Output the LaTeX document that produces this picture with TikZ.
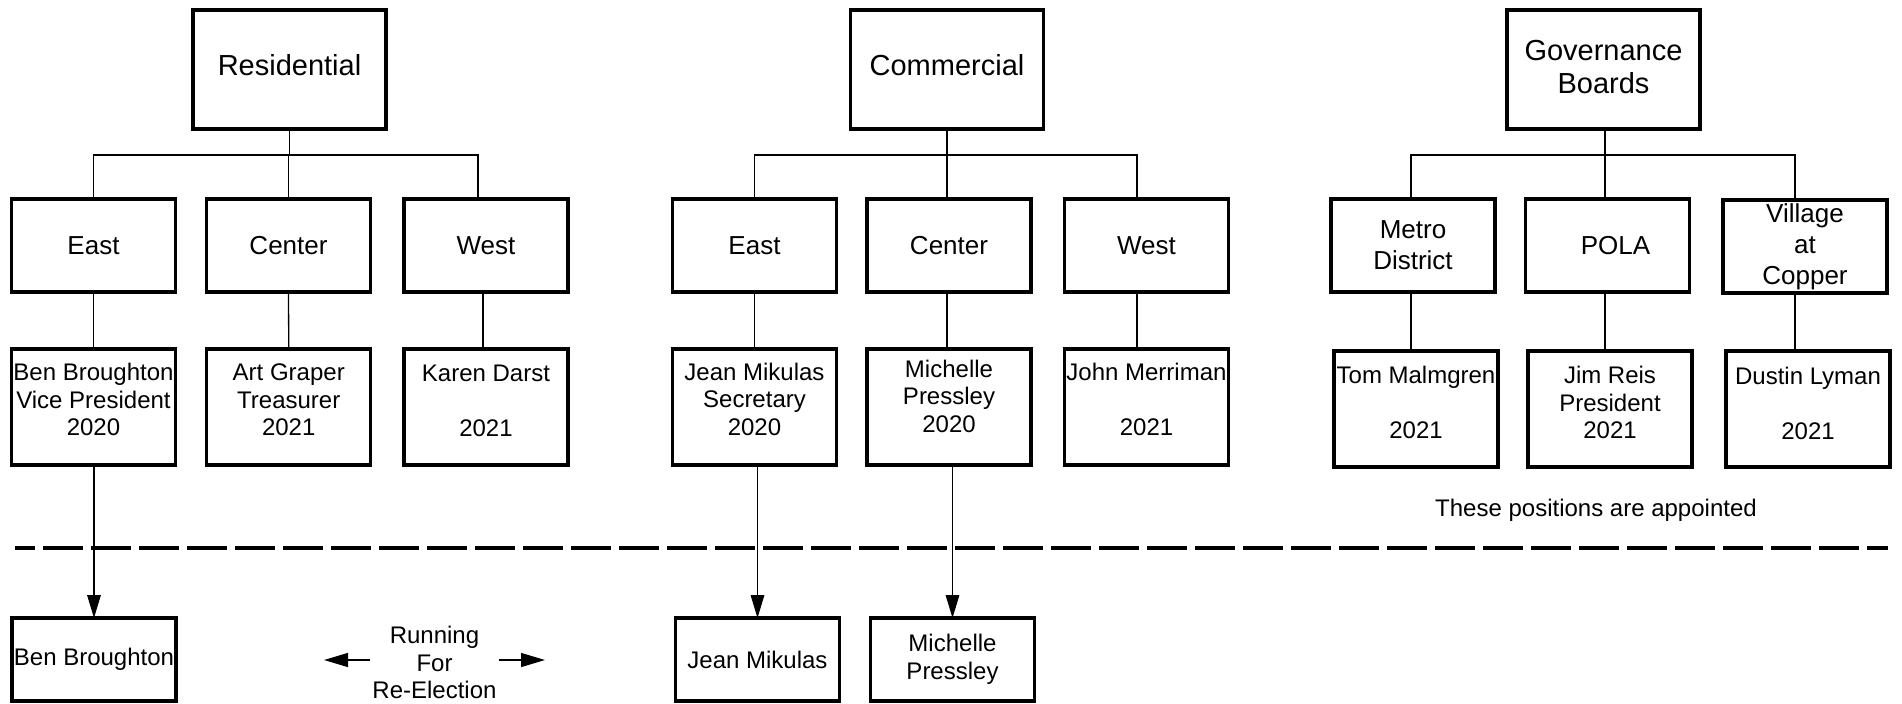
\documentclass[tikz,border=0pt]{standalone}
\usepackage{fontspec}
\setmainfont{Liberation Sans}
\usetikzlibrary{arrows.meta}
\newcommand{\lowpad}[1]{\rule[-#1]{0pt}{0pt}}
\begin{document}
\begin{tikzpicture}[x=0.5pt,y=-0.5pt,
  orgbox/.style={draw, line width=1.7pt, align=center, inner sep=0pt, outer sep=0pt},
  topnode/.style={orgbox, minimum width=96.5pt, minimum height=59.5pt, font=\fontsize{14.5pt}{16.5pt}\selectfont},
  midnode/.style={orgbox, minimum width=82pt, minimum height=46.5pt, font=\fontsize{13pt}{15.5pt}\selectfont},
  lownode/.style={orgbox, minimum width=82pt, minimum height=58pt, font=\fontsize{12pt}{13.75pt}\selectfont},
  runnode/.style={orgbox, minimum width=82pt, minimum height=41.5pt, font=\fontsize{12pt}{13.75pt}\selectfont},
  plaintext/.style={align=center, inner sep=0pt, outer sep=1pt, font=\fontsize{12pt}{13.75pt}\selectfont},
  conn/.style={line width=0.65pt},
  arrdown/.style={conn, -{Triangle[length=11.5pt,width=6.8pt]}},
  arrside/.style={conn, -{Triangle[length=12pt,width=7pt]}},
  sepline/.style={line width=1.6pt, dash pattern=on 20pt off 4pt, dash phase=10pt}
]
\useasboundingbox (0,0) rectangle (1902,703);

% ---------- Residential ----------
\node[topnode] (res) at (289.5,69.5) {Residential\lowpad{4.5pt}};
\node[midnode] (eR) at (93.5,245.5) {East};
\node[midnode] (cR) at (288.5,245.5) {Center};
\node[midnode] (wR) at (486,245.5) {West};
\node[lownode] (bR) at (93.5,407) {Ben Broughton\\Vice President\\2020\lowpad{7.5pt}};
\node[lownode] (aR) at (288.75,407) {Art Graper\\Treasurer\\2021\lowpad{7pt}};
\node[lownode] (kR) at (486,407) {Karen Darst\\\mbox{}\\2021\lowpad{6.5pt}};

\coordinate (busR) at (289.5,155);
\draw[conn] (res.south) -- (busR);
\draw[conn] (busR) -| (eR.north);
\draw[conn] (busR) -| (cR.north);
\draw[conn] (busR) -| ([xshift=-4pt]wR.north);
\draw[conn] (eR.south) -- (bR.north);
\draw[conn] (cR.south) -- (aR.north);
\draw[conn] ([xshift=-1.5pt]wR.south) -- ([xshift=-1.5pt]kR.north);

% ---------- Commercial ----------
\node[topnode] (com) at (947,69.5) {Commercial\lowpad{4.5pt}};
\node[midnode] (eC) at (754.5,245.5) {East};
\node[midnode] (cC) at (949,245.5) {Center};
\node[midnode] (wC) at (1146.5,245.5) {West};
\node[lownode] (jC) at (754.5,407) {Jean Mikulas\\Secretary\\2020\lowpad{8pt}};
\node[lownode] (mC) at (949,407) {Michelle\\Pressley\\2020\lowpad{11pt}};
\node[lownode] (hC) at (1146.5,407) {John Merriman\\\mbox{}\\2021\lowpad{7.3pt}};

\coordinate (busC) at (947,155);
\draw[conn] (com.south) -- (busC);
\draw[conn] (busC) -| (eC.north);
\draw[conn] (busC) -| ([xshift=-1pt]cC.north);
\draw[conn] (busC) -| ([xshift=-4.75pt]wC.north);
\draw[conn] (eC.south) -- (jC.north);
\draw[conn] ([xshift=-1pt]cC.south) -- ([xshift=-1pt]mC.north);
\draw[conn] ([xshift=-4.75pt]wC.south) -- ([xshift=-4.75pt]hC.north);

% ---------- Governance ----------
\node[topnode] (gov) at (1603.5,69.5) {Governance\\Boards\lowpad{3pt}};
\node[midnode] (mG) at (1413,245.5) {Metro\\District};
\node[midnode] (pG) at (1607.5,245.5) {\hspace*{8pt}POLA};
\node[midnode] (vG) at (1805,246.5) {Village\\at\\Copper};
\node[lownode] (tG) at (1416,409) {Tom Malmgren\\\mbox{}\\2021\lowpad{6.5pt}};
\node[lownode] (iG) at (1610,409) {Jim Reis\\President\\2021\lowpad{6.3pt}};
\node[lownode] (dG) at (1808,409) {Dustin Lyman\\\mbox{}\\2021\lowpad{6pt}};

\coordinate (busG) at (1605,155);
\draw[conn] (gov.south -| busG) -- (busG);
\draw[conn] (busG) -| ([xshift=-1pt]mG.north);
\draw[conn] (busG) -- (busG |- pG.north);
\draw[conn] (busG) -| ([xshift=-5pt]vG.north);
\draw[conn] ([xshift=-1pt]mG.south) -- ([xshift=-1pt]mG.south |- tG.north);
\draw[conn] (busG |- pG.south) -- (busG |- iG.north);
\draw[conn] ([xshift=-5pt]vG.south) -- ([xshift=-5pt]vG.south |- dG.north);

\node[plaintext] (note) at (1596,510) {These positions are appointed};

% ---------- separator ----------
\coordinate (sepL) at (15,548);
\coordinate (sepR) at (1888,548);
\draw[sepline] (sepL) -- (sepR);

% ---------- running for re-election ----------
\node[runnode] (bB) at (94,659.5) {Ben Broughton};
\node[runnode] (jB) at (757.5,659.5) {Jean Mikulas};
\node[runnode] (mB) at (952.5,659.5) {Michelle\\Pressley};

\draw[arrdown] (bR.south -| bB.north) -- (bB.north);
\draw[arrdown] (jC.south -| jB.north) -- (jB.north);
\draw[arrdown] (mC.south -| mB.north) -- (mB.north);

\node[plaintext] (run) at (434.5,662.5) {Running\\For\\Re-Election};
\coordinate (la) at (324,660);
\coordinate (ra) at (545,660);
\draw[arrside] (la -| run.west) -- (la);
\draw[arrside] (ra -| run.east) -- (ra);
\end{tikzpicture}
\end{document}
